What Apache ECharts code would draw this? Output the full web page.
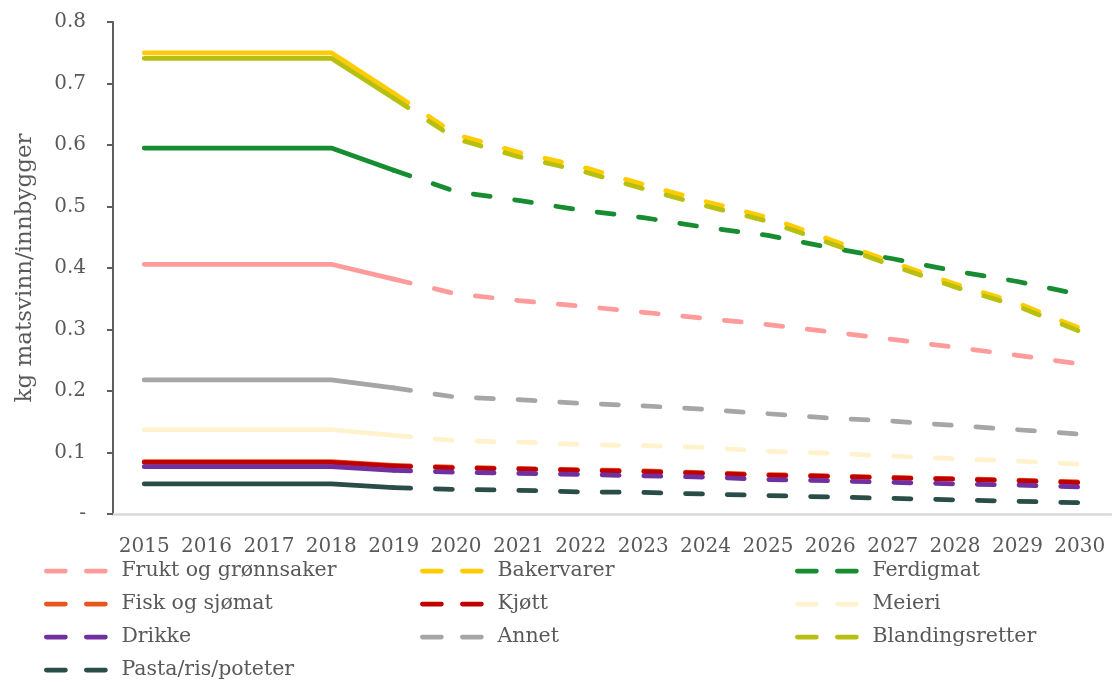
<!DOCTYPE html>
<html>
<head>
<meta charset="utf-8">
<script src="https://cdn.jsdelivr.net/npm/echarts@6/dist/echarts.min.js"></script>
<style>
html,body{margin:0;padding:0;background:#fff;}
#chart{width:1114px;height:682px;}
</style>
</head>
<body>
<div id="chart"></div>
<script>
// ---- data ----
const years = ['2015','2016','2017','2018','2019','2020','2021','2022','2023','2024','2025','2026','2027','2028','2029','2030'];
const fruktOgGronnsaker = [0.406,0.406,0.406,0.406,0.382,0.358,0.347,0.338,0.328,0.318,0.308,0.296,0.284,0.271,0.258,0.244];
const bakervarer        = [0.750,0.750,0.750,0.750,0.684,0.617,0.588,0.565,0.536,0.508,0.482,0.446,0.409,0.374,0.343,0.302];
const ferdigmat         = [0.595,0.595,0.595,0.595,0.559,0.524,0.510,0.494,0.482,0.466,0.453,0.433,0.415,0.395,0.378,0.357];
const fiskOgSjomat      = [0.085,0.085,0.085,0.085,0.079,0.076,0.074,0.072,0.070,0.067,0.064,0.062,0.0595,0.0575,0.055,0.052];
const kjott             = [0.084,0.084,0.084,0.084,0.078,0.075,0.073,0.071,0.069,0.066,0.063,0.061,0.0585,0.0565,0.054,0.051];
const meieri            = [0.137,0.137,0.137,0.137,0.128,0.119,0.117,0.113,0.111,0.108,0.102,0.099,0.094,0.090,0.086,0.081];
const drikke            = [0.077,0.077,0.077,0.077,0.071,0.068,0.066,0.0645,0.062,0.060,0.056,0.054,0.0515,0.049,0.047,0.044];
const annet             = [0.218,0.218,0.218,0.218,0.205,0.190,0.186,0.180,0.176,0.170,0.163,0.156,0.151,0.144,0.137,0.130];
const blandingsretter   = [0.741,0.741,0.741,0.741,0.676,0.610,0.581,0.558,0.529,0.501,0.476,0.440,0.404,0.369,0.338,0.297];
const pastaRisPoteter   = [0.049,0.049,0.049,0.049,0.043,0.040,0.0385,0.036,0.035,0.0325,0.030,0.0276,0.0255,0.023,0.0206,0.0184];

const seriesNames = ['Frukt og grønnsaker','Bakervarer','Ferdigmat','Fisk og sjømat','Kjøtt','Meieri','Drikke','Annet','Blandingsretter','Pasta/ris/poteter'];
const seriesValues = [fruktOgGronnsaker,bakervarer,ferdigmat,fiskOgSjomat,kjott,meieri,drikke,annet,blandingsretter,pastaRisPoteter];
const seriesColors = ['#FF9B9B','#FFCC00','#178C30','#E8561E','#C00000','#FFF2CC','#7030A0','#A6A6A6','#B7BF10','#2A4D47'];
const lastHistoricIndex = 4; // 2019: solid up to here, dashed from here

const yTicks = {min:0, max:0.8, interval:0.1};

// ---- styling ----
const FONT = 'DejaVu Serif';
const TXT = '#595959';
const LW = 4.75;

const series = [];
seriesNames.forEach((name, k) => {
  const vals = seriesValues[k];
  const col = seriesColors[k];
  series.push({
    name: name + ' (historisk)',
    type: 'line',
    data: vals.map((v, i) => i <= lastHistoricIndex ? v : null),
    symbol: 'none',
    color: col,
    itemStyle: {color: col},
    lineStyle: {color: col, width: LW, cap: 'round', join: 'round'},
    silent: true,
    z: 2 + k
  });
  series.push({
    name: name,
    type: 'line',
    data: vals.map((v, i) => i >= lastHistoricIndex ? v : null),
    symbol: 'none',
    color: col,
    itemStyle: {color: col},
    lineStyle: {color: col, width: LW, type: [17, 24.7], cap: 'round', join: 'round'},
    silent: true,
    z: 2 + k
  });
});

function makeLegend(left, names) {
  return {
    orient: 'vertical',
    left: left,
    top: 559,
    height: 140,
    padding: 0,
    itemWidth: 64,
    itemHeight: 5,
    itemGap: 9,
    selectedMode: false,
    itemStyle: {opacity: 0},
    lineStyle: {width: LW, type: [19, 21], cap: 'round'},
    textStyle: {fontFamily: FONT, fontSize: 20.5, color: TXT, lineHeight: 24, padding: [0, 0, 0, 6]},
    data: names
  };
}

const option = {
  animation: false,
  backgroundColor: '#ffffff',
  textStyle: {fontFamily: FONT},
  grid: {left: 113, top: 22, right: 3, bottom: 168, containLabel: false},
  legend: [
    makeLegend(44, [seriesNames[0], seriesNames[3], seriesNames[6], seriesNames[9]]),
    makeLegend(420, [seriesNames[1], seriesNames[4], seriesNames[7]]),
    makeLegend(795, [seriesNames[2], seriesNames[5], seriesNames[8]])
  ],
  xAxis: {
    type: 'category',
    data: years,
    boundaryGap: true,
    axisLine: {show: true, lineStyle: {color: '#D9D9D9', width: 2.5}},
    axisTick: {show: false},
    axisLabel: {fontFamily: FONT, fontSize: 20, color: TXT, margin: 23, interval: 0},
    splitLine: {show: false}
  },
  yAxis: {
    type: 'value',
    min: yTicks.min,
    max: yTicks.max,
    interval: yTicks.interval,
    name: 'kg matsvinn/innbygger',
    nameLocation: 'middle',
    nameGap: 76,
    nameTextStyle: {fontFamily: FONT, fontSize: 23, color: TXT},
    axisLine: {show: true, lineStyle: {color: '#5F5F5F', width: 2}},
    axisTick: {show: true, inside: false, length: 6, lineStyle: {color: '#5F5F5F', width: 2}},
    axisLabel: {
      fontFamily: FONT, fontSize: 20, color: TXT, margin: 27,
      formatter: v => v === 0 ? '-' : v.toFixed(1)
    },
    splitLine: {show: false}
  },
  series: series
};

const chart = echarts.init(document.getElementById('chart'), null, {renderer: 'canvas'});
chart.setOption(option);
</script>
</body>
</html>
